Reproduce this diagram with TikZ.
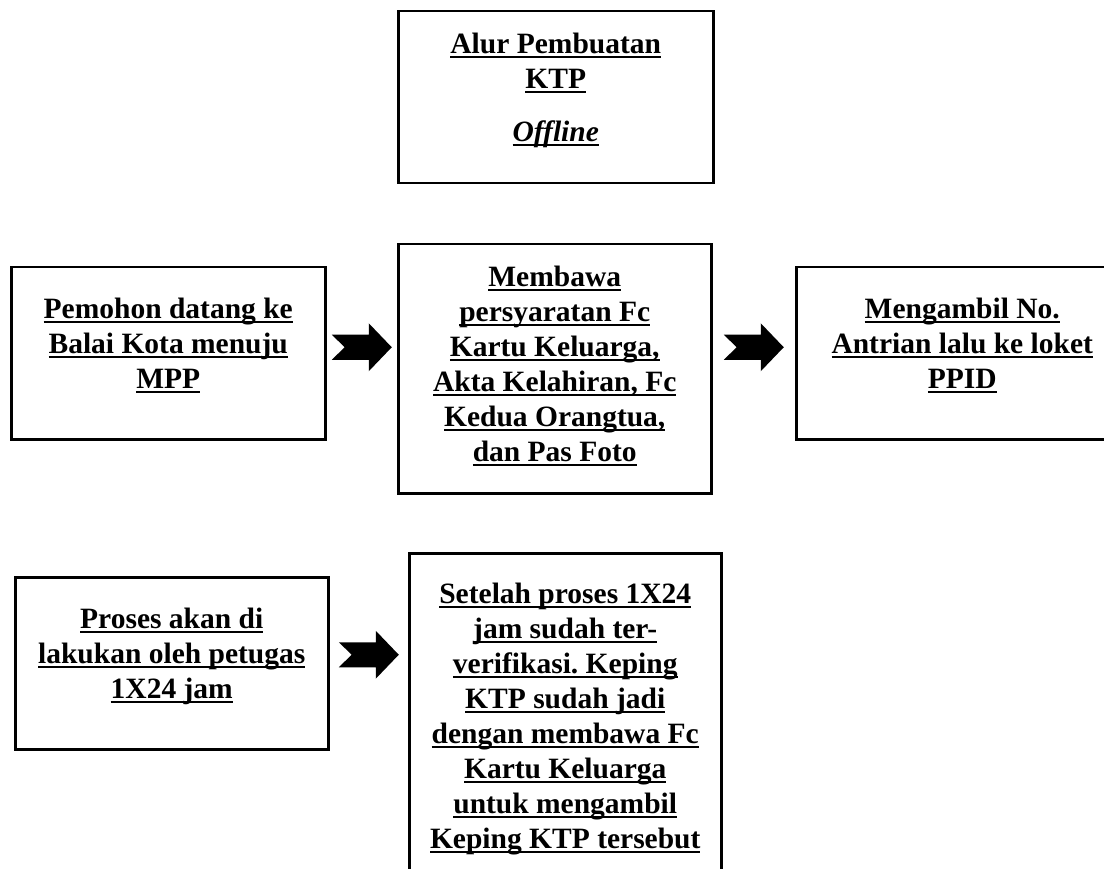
\documentclass[tikz,border=0pt]{standalone}
\usepackage{fontspec}
\setmainfont{Liberation Serif}
\usetikzlibrary{calc}
\frenchspacing
\newcommand\ulx[1]{\setbox0=\hbox{#1}\rlap{\rule[-5pt]{\wd0}{1.8pt}}\box0}
\tikzset{
  box/.style={draw, line width=2.5pt, inner sep=0pt, anchor=north west,
    font=\bfseries\fontsize{29.5}{35}\selectfont},
  blockarrow/.pic={\fill (-30,-12.5) -- (7,-12.5) -- (7,-24) -- (30,0) -- (7,24) -- (7,12.5) -- (-30,12.5) -- (-17,0) -- cycle;}
}
\begin{document}
\begin{tikzpicture}[x=1pt,y=-1pt]
\useasboundingbox (0,0) rectangle (1104,869);
\clip (0,0) rectangle (1104,869);
\node[box, minimum width=315pt, text height=42pt, text depth=130pt] (title) at (397,10)
  {\begin{tabular}[t]{@{}c@{}}\ulx{Alur Pembuatan}\\ \ulx{KTP}\\[18pt] \ulx{\textit{Offline}}\end{tabular}};
\node[box, minimum width=314pt, text height=51pt, text depth=121pt] (b1) at (10,266)
  {\begin{tabular}[t]{@{}c@{}}\ulx{Pemohon datang ke}\\ \ulx{Balai Kota menuju}\\ \ulx{MPP}\end{tabular}};
\node[box, minimum width=313pt, text height=42pt, text depth=207pt] (b2) at (397,243)
  {\begin{tabular}[t]{@{}c@{}}\ulx{Membawa}\\ \ulx{persyaratan Fc}\\ \ulx{Kartu Keluarga,}\\ \ulx{Akta Kelahiran, Fc}\\ \ulx{Kedua Orangtua,}\\ \ulx{dan Pas Foto}\end{tabular}};
\node[box, minimum width=332pt, text height=51pt, text depth=121pt] (b3) at (795,266)
  {\begin{tabular}[t]{@{}c@{}}\ulx{Mengambil No.}\\ \ulx{Antrian lalu ke loket}\\ \ulx{PPID}\end{tabular}};
\node[box, minimum width=313pt, text height=51pt, text depth=121pt] (b4) at (14,576)
  {\begin{tabular}[t]{@{}c@{}}\ulx{Proses akan di}\\ \ulx{lakukan oleh petugas}\\ \ulx{1X24 jam}\end{tabular}};
\node[box, minimum width=312pt, text height=50pt, text depth=350pt] (b5) at (408,552)
  {\begin{tabular}[t]{@{}c@{}}\ulx{Setelah proses 1X24}\\ \ulx{jam sudah ter-}\\ \ulx{verifikasi. Keping}\\ \ulx{KTP sudah jadi}\\ \ulx{dengan membawa Fc}\\ \ulx{Kartu Keluarga}\\ \ulx{untuk mengambil}\\ \ulx{Keping KTP tersebut}\end{tabular}};
\pic at ([yshift=6pt]$(b1.east)!0.5!(b2.west |- b1.east)$) {blockarrow};
\pic at ([yshift=6pt]$(b2.east |- b3.west)!0.5!(b3.west)$) {blockarrow};
\pic at ([yshift=8.5pt]$(b4.east)!0.5!(b5.west |- b4.east)$) {blockarrow};
\end{tikzpicture}
\end{document}
